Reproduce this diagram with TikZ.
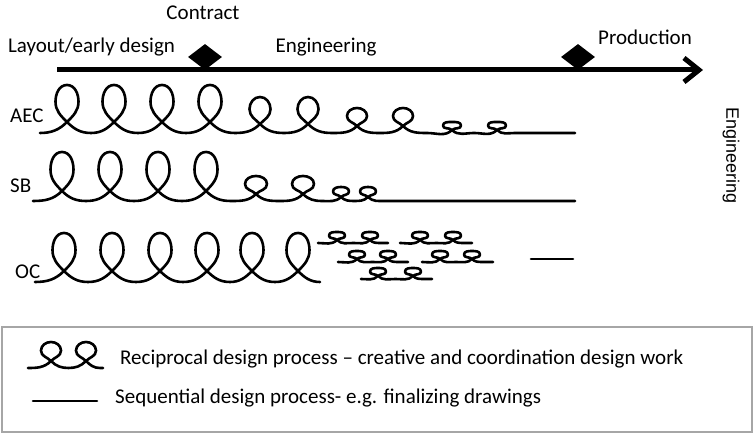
\documentclass[tikz,border=0pt]{standalone}
\usepackage{fontspec}
\setmainfont{Carlito}
\newfontfamily\vertfont{Liberation Sans}
\usetikzlibrary{arrows.meta,shapes.geometric}

% A curly line on baseline #1: starts at x=#2, one loop per entry of #3
% (centre x / height / half width / crossing height / following trough x),
% then runs straight to x=#4.
\newcommand\curlpath[4]{%
  \draw[curl] (#2,#1)
  \foreach \xc/\H/\w/\hc/\xt in {#3} {
    to[out=0,in=225] (\xc,{#1+\hc})
    to[out=45,in=-90] ({\xc+\w},{#1+\hc+0.55*(\H-\hc)})
    to[out=90,in=0] (\xc,{#1+\H})
    to[out=180,in=90] ({\xc-\w},{#1+\hc+0.55*(\H-\hc)})
    to[out=-90,in=135] (\xc,{#1+\hc})
    to[out=-45,in=180] (\xt,#1)
  } -- (#4,#1);}

\begin{document}
\begin{tikzpicture}[x=1pt,y=1pt,
  curl/.style={line width=2.6pt, line join=round, line cap=round},
  lbl/.style={inner sep=0pt, font=\fontsize{21}{25}\selectfont},
  milestone/.style={diamond, fill=black, inner sep=0pt,
    minimum width=34pt, minimum height=26pt},
  legendbox/.style={draw=black!35, line width=1.5pt, fill=white}]
\useasboundingbox (0,0) rectangle (756,435);

% time line with its two milestones
\coordinate (tl-start) at (57,365);
\coordinate (tl-end) at (703,365);
\draw[line width=5pt, -{Straight Barb[length=15pt,width=24pt]}] (tl-start) -- (tl-end);
\node[milestone] (contract-mark) at (205,378) {};
\node[milestone] (production-mark) at (578,378) {};

% phase labels
\node[lbl, anchor=base] (contract) at (203,415) {Contract};
\node[lbl, anchor=base] (layout) at (91.5,382) {Layout/early design};
\node[lbl, anchor=base] (engineering) at (326,382) {Engineering};
\node[lbl, anchor=base] (production) at (645,390) {Production};
\node[rotate=-90, inner sep=0pt, font=\vertfont\fontsize{18}{22}\selectfont]
  (engineering-side) at (731,279) {Engineering};

% row labels
\node[lbl, anchor=base west] (aec) at (10,312) {AEC};
\node[lbl, anchor=base west] (sb) at (10,242) {SB};
\node[lbl, anchor=base west] (oc) at (15,156) {OC};

% AEC
\curlpath{302}{40}{67/48/11.5/11/91, 114/48/11.5/11/138, 162/48/11.5/11/186,
  210/48/11.5/11/235, 260/36/10.5/9/284, 308/36/10.5/9/332,
  357/25/10/7/380, 403/25/10/7/427, 452/11/9/3/474, 497/11/9/3/515}{575}

% SB
\curlpath{234}{33}{62/49/11.5/10/86, 110/49/11.5/10/134, 158/49/11.5/10/182,
  206/49/11.5/10/231, 256/25/11/7/280, 303/25/11/7/322,
  341/14/8/4/354, 368/14/8/4/385}{575}

% OC
\curlpath{153}{35}{64/49/11.5/11/88, 112/49/11.5/11/136, 160/49/11.5/11/183,
  207/49/11.5/11/230, 252/49/11.5/11/275, 298/49/11.5/11/320}{320}
\curlpath{192}{318}{337/11/8/3/353.5, 370/11/8/3/380}{388}
\curlpath{192}{400}{420/11/8/3/436.5, 453/11/8/3/463}{472}
\curlpath{173}{338}{357/11/8/3/372.5, 388/11/8/3/398}{408}
\curlpath{173}{422}{440/11/8/3/456, 472/11/8/3/482}{493}
\curlpath{156}{361}{378/11/8/3/395.5, 413/11/8/3/423}{432}
\coordinate (oc-seq-a) at (531,176);
\coordinate (oc-seq-b) at (573,176);
\draw[curl] (oc-seq-a) -- (oc-seq-b);

% legend
\draw[legendbox] (2,3) rectangle (752,108);
\curlpath{67}{28}{51/26/10/7/68.5, 86/26/10/7/100}{103}
\coordinate (leg-seq-a) at (33,34);
\coordinate (leg-seq-b) at (97,34);
\draw[curl] (leg-seq-a) -- (leg-seq-b);
\node[lbl, anchor=base west] (leg-recip) at (120,70)
  {Reciprocal design process -- creative and coordination design work};
\node[lbl, anchor=base west] (leg-seq) at (115,31)
  {Sequential design process- e.g. finalizing drawings};
\end{tikzpicture}
\end{document}
